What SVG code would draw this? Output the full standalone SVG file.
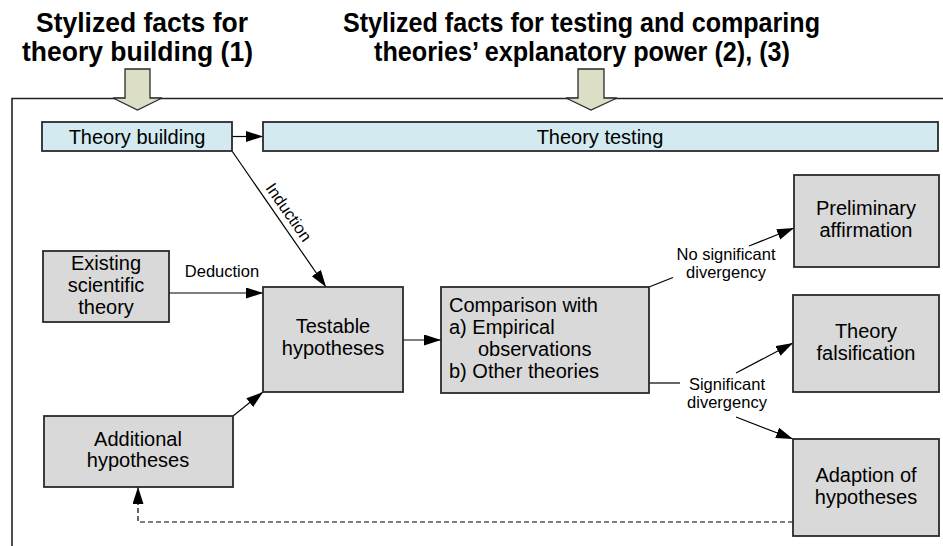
<svg xmlns="http://www.w3.org/2000/svg" width="943" height="546" viewBox="0 0 943 546">
<defs>
<style>
.title{font-family:"Liberation Sans",Arial,sans-serif;font-weight:bold;font-size:27.5px;fill:#000;text-anchor:middle}
.box{fill:#d9d9d9;stroke:#2a2a2a;stroke-width:1.8}
.hdr{fill:#d3eaf0;stroke:#2a2a2a;stroke-width:1.8}
.big{fill:#dcdfc6;stroke:#2a2a2a;stroke-width:1.3}
.t{font-family:"Liberation Sans",Arial,sans-serif;font-size:20px;fill:#000;text-anchor:middle}
.tl{font-family:"Liberation Sans",Arial,sans-serif;font-size:20px;fill:#000}
.lab{font-family:"Liberation Sans",Arial,sans-serif;font-size:16.5px;fill:#000;text-anchor:middle}
.c{fill:none;stroke:#000;stroke-width:1.2}
.dash{fill:none;stroke:#000;stroke-width:1.2;stroke-dasharray:5,3}
</style>
<marker id="ah" markerUnits="userSpaceOnUse" markerWidth="18" markerHeight="12" refX="17" refY="5.5" orient="auto">
<path d="M0,0 L17,5.5 L0,11 z" fill="#000"/>
</marker>
</defs>
<rect width="943" height="546" fill="#fff"/>

<g id="titles">
<text class="title" x="142" y="32" textLength="212" lengthAdjust="spacingAndGlyphs">Stylized facts for</text>
<text class="title" x="137.5" y="61" textLength="231" lengthAdjust="spacingAndGlyphs">theory building (1)</text>
<text class="title" x="581.5" y="32" textLength="477" lengthAdjust="spacingAndGlyphs">Stylized facts for testing and comparing</text>
<text class="title" x="582" y="61" textLength="416" lengthAdjust="spacingAndGlyphs">theories’ explanatory power (2), (3)</text>
</g>

<g id="frame">
<path d="M12,546 L12,98.5 L943,98.5" fill="none" stroke="#222" stroke-width="1.6"/>
</g>

<g id="bigarrows">
<polygon class="big" points="125,69 150,69 150,98 162,98 137.5,110 113,98 125,98"/>
<polygon class="big" points="578,69 604,69 604,98 617,98 591,110 566,98 578,98"/>
</g>

<g id="connectors">
<line class="c" x1="232" y1="136.5" x2="263" y2="136.5" marker-end="url(#ah)"/>
<line class="c" x1="232" y1="151" x2="326" y2="287" marker-end="url(#ah)"/>
<line class="c" x1="169" y1="293" x2="263" y2="293" marker-end="url(#ah)"/>
<line class="c" x1="233" y1="416" x2="263" y2="392" marker-end="url(#ah)"/>
<line class="c" x1="403" y1="340" x2="441" y2="340" marker-end="url(#ah)"/>
<line class="c" x1="649" y1="287" x2="673" y2="277.5"/>
<line class="c" x1="749" y1="246" x2="794" y2="228" marker-end="url(#ah)"/>
<line class="c" x1="649" y1="383" x2="680" y2="383"/>
<line class="c" x1="736" y1="373" x2="793" y2="343" marker-end="url(#ah)"/>
<line class="c" x1="736" y1="417" x2="793" y2="439" marker-end="url(#ah)"/>
<path class="dash" d="M793,522 L138,522 L138,487" marker-end="url(#ah)"/>
<text class="lab" x="222" y="277" font-size="17">Deduction</text>
<text class="lab" transform="translate(289,212) rotate(55.3)" x="0" y="6">Induction</text>
<text class="lab" x="726" y="260">No significant</text>
<text class="lab" x="726" y="278">divergency</text>
<text class="lab" x="727" y="390">Significant</text>
<text class="lab" x="727" y="408">divergency</text>
</g>

<g id="theory-building">
<rect class="hdr" x="42" y="122" width="190" height="29"/>
<text class="t" x="137" y="143.5">Theory building</text>
</g>
<g id="theory-testing">
<rect class="hdr" x="263" y="122" width="675" height="29"/>
<text class="t" x="600" y="143.5">Theory testing</text>
</g>
<g id="existing-theory">
<rect class="box" x="43" y="251" width="126" height="71"/>
<text class="t" x="106" y="270">Existing</text>
<text class="t" x="106" y="292">scientific</text>
<text class="t" x="106" y="314">theory</text>
</g>
<g id="testable-hypotheses">
<rect class="box" x="263" y="287" width="140" height="105"/>
<text class="t" x="333" y="333">Testable</text>
<text class="t" x="333" y="355">hypotheses</text>
</g>
<g id="additional-hypotheses">
<rect class="box" x="44" y="416" width="189" height="71"/>
<text class="t" x="138" y="446">Additional</text>
<text class="t" x="138" y="467">hypotheses</text>
</g>
<g id="comparison">
<rect class="box" x="441" y="287" width="208" height="106"/>
<text class="tl" x="449" y="312">Comparison with</text>
<text class="tl" x="449" y="334">a) Empirical</text>
<text class="tl" x="478" y="356">observations</text>
<text class="tl" x="449" y="378">b) Other theories</text>
</g>
<g id="preliminary-affirmation">
<rect class="box" x="794" y="175" width="145" height="92"/>
<text class="t" x="866" y="215">Preliminary</text>
<text class="t" x="866" y="237">affirmation</text>
</g>
<g id="theory-falsification">
<rect class="box" x="793" y="295" width="146" height="97"/>
<text class="t" x="866" y="338">Theory</text>
<text class="t" x="866" y="360">falsification</text>
</g>
<g id="adaption-hypotheses">
<rect class="box" x="793" y="439" width="146" height="97"/>
<text class="t" x="866" y="482">Adaption of</text>
<text class="t" x="866" y="504">hypotheses</text>
</g>
</svg>
